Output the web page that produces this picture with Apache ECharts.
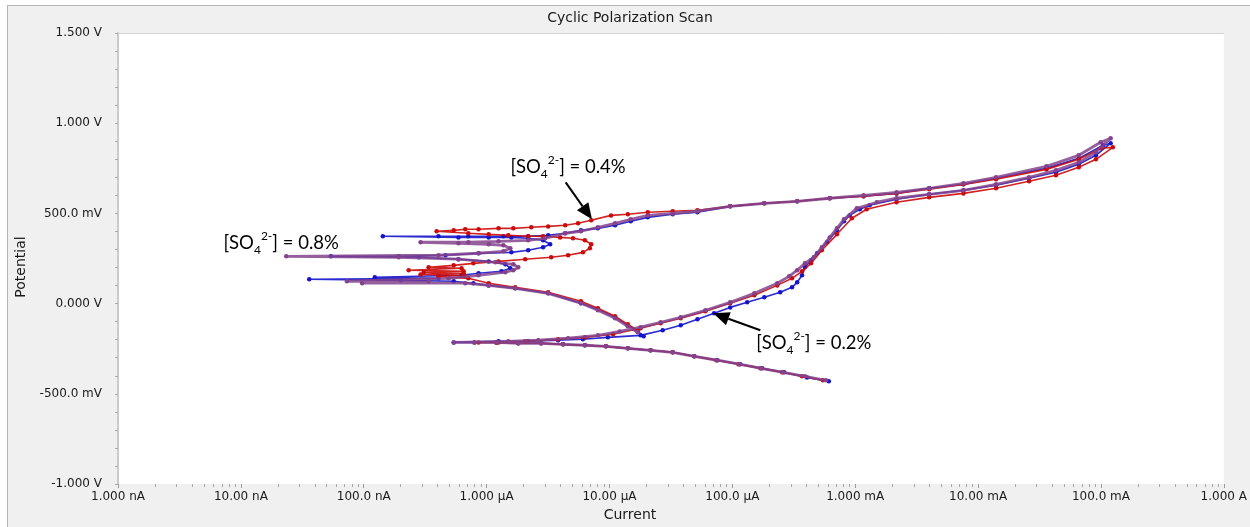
<!DOCTYPE html>
<html>
<head>
<meta charset="utf-8">
<title>Cyclic Polarization Scan</title>
<script src="https://cdn.jsdelivr.net/npm/echarts@6/dist/echarts.min.js"></script>
<style>
  html, body { margin: 0; padding: 0; background: #ffffff; }
  #frame { position: absolute; left: 7px; top: 5px; width: 1260px; height: 540px;
           background: #f0f0f0; border-left: 1px solid #b4b4b4; border-top: 1px solid #b4b4b4; }
  #chart { position: absolute; left: 0; top: 0; width: 1250px; height: 527px; }
</style>
</head>
<body>
<div id="frame"></div>
<div id="chart"></div>
<script>
// ---- axis tick labels ----
const currentTickLabels = ['1.000 nA', '10.00 nA', '100.0 nA', '1.000 µA', '10.00 µA',
                           '100.0 µA', '1.000 mA', '10.00 mA', '100.0 mA', '1.000 A'];
const potentialTicks = [-1.0, -0.5, 0.0, 0.5, 1.0, 1.5];
const potentialTickLabels = ['-1.000 V', '-500.0 mV', '0.000 V', '500.0 mV', '1.000 V', '1.500 V'];

// ---- scans: [current (A), potential (V)] in acquisition order ----
// [SO4 2-] = 0.2 %
const scan02 = [
  [6.1e-4, -0.431], [4.05e-4, -0.409], [2.64e-4, -0.381], [1.75e-4, -0.359], [1.16e-4, -0.336],
  [7.55e-5, -0.314], [4.9e-5, -0.292], [3.27e-5, -0.270], [2.16e-5, -0.259], [1.41e-5, -0.248],
  [9.35e-6, -0.237], [6.3e-6, -0.231], [4.19e-6, -0.226], [2.78e-6, -0.220], [1.81e-6, -0.220],
  [1.2e-6, -0.215], [7.96e-7, -0.215], [5.4e-7, -0.215],
  [1.25e-6, -0.209], [2.18e-6, -0.209], [3.82e-6, -0.203], [6.08e-6, -0.198], [9.7e-6, -0.187],
  [1.79e-5, -0.176], [2.71e-5, -0.148], [3.8e-5, -0.120], [5.2e-5, -0.087], [7.1e-5, -0.054],
  [9.6e-5, -0.021], [1.32e-4, 0.007], [1.82e-4, 0.035], [2.45e-4, 0.063], [3.06e-4, 0.090],
  [3.37e-4, 0.118], [3.69e-4, 0.157], [3.9e-4, 0.201], [4.37e-4, 0.240], [4.9e-4, 0.279],
  [5.9e-4, 0.340], [7.1e-4, 0.406], [8.1e-4, 0.456], [9.0e-4, 0.489], [1.09e-3, 0.523],
  [1.31e-3, 0.545], [2.17e-3, 0.578], [4.0e-3, 0.606], [7.6e-3, 0.628], [1.4e-2, 0.656],
  [2.6e-2, 0.695], [4.3e-2, 0.728], [6.6e-2, 0.772], [9.1e-2, 0.822], [0.12, 0.889],
  [0.104, 0.878], [0.066, 0.805], [3.6e-2, 0.750], [1.4e-2, 0.695], [7.6e-3, 0.661],
  [4.0e-3, 0.639], [2.17e-3, 0.611], [1.17e-3, 0.595], [6.2e-4, 0.584], [3.37e-4, 0.567],
  [1.82e-4, 0.556], [9.6e-5, 0.539], [5.2e-5, 0.506], [3.27e-5, 0.495], [2.05e-5, 0.478],
  [1.49e-5, 0.456], [1.11e-5, 0.434], [8.05e-6, 0.417], [5.86e-6, 0.406], [4.36e-6, 0.390],
  [3.17e-6, 0.379], [2.18e-6, 0.373], [1.37e-6, 0.373], [7.1e-7, 0.373], [4.06e-7, 0.373],
  [1.43e-7, 0.373], [5.9e-7, 0.367], [1.04e-6, 0.367], [1.59e-6, 0.367], [2.18e-6, 0.362],
  [2.88e-6, 0.351], [3.29e-6, 0.329], [2.88e-6, 0.312], [2.18e-6, 0.296], [1.59e-6, 0.284],
  [8.6e-7, 0.279], [4.63e-7, 0.268], [1.93e-7, 0.262], [5.4e-8, 0.262], [2.8e-7, 0.257],
  [5.9e-7, 0.246], [1.04e-6, 0.234], [1.42e-6, 0.218], [1.56e-6, 0.196], [1.32e-6, 0.179],
  [8.6e-7, 0.168], [6.25e-7, 0.157], [1.23e-7, 0.146], [4.06e-7, 0.140], [3.6e-8, 0.135],
  [2.0e-7, 0.129], [5.4e-7, 0.124], [7.8e-7, 0.113],
  [1.04e-6, 0.101], [1.71e-6, 0.085], [3.17e-6, 0.057], [5.86e-6, 0.002], [8.05e-6, -0.032],
  [1.11e-5, -0.076], [1.41e-5, -0.120], [1.7e-5, -0.154], [1.9e-5, -0.181]
];

// [SO4 2-] = 0.4 %
const scan04 = [
  [5.45e-4, -0.425], [3.69e-4, -0.403], [2.54e-4, -0.381], [1.69e-4, -0.359], [1.12e-4, -0.336],
  [7.4e-5, -0.314], [4.9e-5, -0.292], [3.27e-5, -0.270], [2.16e-5, -0.259], [1.41e-5, -0.248],
  [9.35e-6, -0.237], [6.3e-6, -0.231], [4.19e-6, -0.226], [2.78e-6, -0.220], [1.81e-6, -0.220],
  [1.2e-6, -0.215], [8.6e-7, -0.215],
  [1.25e-6, -0.215], [2.06e-6, -0.209], [3.82e-6, -0.198], [6.3e-6, -0.187], [1.07e-5, -0.170],
  [1.79e-5, -0.137], [2.61e-5, -0.109], [3.8e-5, -0.081], [6.04e-5, -0.043], [9.6e-5, 0.002],
  [1.51e-4, 0.046], [2.32e-4, 0.101], [3.06e-4, 0.140], [3.69e-4, 0.179], [4.37e-4, 0.223],
  [5.35e-4, 0.296], [7.1e-4, 0.384], [9.4e-4, 0.473], [1.24e-3, 0.523], [2.17e-3, 0.562],
  [4.0e-3, 0.589], [7.6e-3, 0.611], [1.4e-2, 0.639], [2.6e-2, 0.678], [4.3e-2, 0.711],
  [6.6e-2, 0.756], [9.1e-2, 0.800], [0.125, 0.866],
  [0.0995, 0.861], [0.066, 0.800], [3.6e-2, 0.744], [1.4e-2, 0.689], [7.6e-3, 0.661],
  [4.0e-3, 0.634], [2.17e-3, 0.611], [1.17e-3, 0.595], [6.2e-4, 0.584], [3.37e-4, 0.567],
  [1.82e-4, 0.556], [9.6e-5, 0.539], [5.2e-5, 0.517], [3.27e-5, 0.512], [2.05e-5, 0.506],
  [1.41e-5, 0.495], [1.03e-5, 0.489], [7.1e-6, 0.462], [5.55e-6, 0.445], [4.36e-6, 0.434],
  [3.17e-6, 0.428], [2.31e-6, 0.423], [1.65e-6, 0.417], [1.25e-6, 0.417], [8.6e-7, 0.412],
  [6.7e-7, 0.412], [5.4e-7, 0.406], [3.92e-7, 0.401], [7.1e-7, 0.390], [1.04e-6, 0.384],
  [1.5e-6, 0.379], [2.18e-6, 0.373], [2.88e-6, 0.373], [3.96e-6, 0.367], [5.05e-6, 0.362],
  [6.3e-6, 0.351], [7.1e-6, 0.329], [6.93e-6, 0.307], [6.08e-6, 0.284], [4.6e-6, 0.268],
  [3.35e-6, 0.257], [2.06e-6, 0.246], [1.25e-6, 0.234], [7.8e-7, 0.223], [5.4e-7, 0.212],
  [3.37e-7, 0.201], [6.25e-7, 0.196], [2.32e-7, 0.185], [6.5e-7, 0.179], [3.08e-7, 0.174],
  [6.5e-7, 0.168], [2.9e-7, 0.162], [6.6e-7, 0.157], [4.06e-7, 0.151], [7.1e-7, 0.140],
  [1.04e-6, 0.113], [1.71e-6, 0.090], [3.17e-6, 0.063], [5.86e-6, 0.013], [8.05e-6, -0.026],
  [1.11e-5, -0.070], [1.41e-5, -0.115], [1.7e-5, -0.148]
];

// [SO4 2-] = 0.8 %
const scan08 = [
  [5.78e-4, -0.425], [3.9e-4, -0.403], [2.59e-4, -0.381], [1.72e-4, -0.359], [1.14e-4, -0.336],
  [7.55e-5, -0.314], [4.9e-5, -0.292], [3.27e-5, -0.270], [2.16e-5, -0.259], [1.41e-5, -0.248],
  [9.35e-6, -0.237], [6.3e-6, -0.231], [4.19e-6, -0.226], [2.78e-6, -0.220], [1.81e-6, -0.220],
  [1.2e-6, -0.215], [7.96e-7, -0.215], [5.4e-7, -0.215],
  [1.5e-6, -0.209], [2.63e-6, -0.203], [4.6e-6, -0.192], [8.05e-6, -0.176], [1.21e-5, -0.154],
  [1.79e-5, -0.131], [2.61e-5, -0.104], [3.8e-5, -0.076], [6.04e-5, -0.037], [9.6e-5, 0.007],
  [1.51e-4, 0.057], [2.32e-4, 0.113], [2.9e-4, 0.151], [3.37e-4, 0.185], [3.9e-4, 0.223],
  [4.6e-4, 0.257], [5.35e-4, 0.312], [6.2e-4, 0.367], [7.1e-4, 0.417], [8.1e-4, 0.467],
  [1.03e-3, 0.528], [1.5e-3, 0.562], [2.17e-3, 0.584], [4.0e-3, 0.606], [7.6e-3, 0.628],
  [1.4e-2, 0.661], [2.6e-2, 0.700], [4.3e-2, 0.739], [6.6e-2, 0.783], [9.1e-2, 0.839],
  [0.12, 0.916],
  [0.0995, 0.894], [0.066, 0.822], [3.6e-2, 0.761], [1.4e-2, 0.700], [7.6e-3, 0.667],
  [4.0e-3, 0.639], [2.17e-3, 0.617], [1.17e-3, 0.600], [6.2e-4, 0.584], [3.37e-4, 0.567],
  [1.82e-4, 0.556], [9.6e-5, 0.539], [5.2e-5, 0.512], [3.27e-5, 0.500], [2.05e-5, 0.489],
  [1.49e-5, 0.467], [1.11e-5, 0.445], [8.05e-6, 0.423], [5.86e-6, 0.401], [4.36e-6, 0.390],
  [2.99e-6, 0.362], [2.18e-6, 0.351], [1.25e-6, 0.345], [7.1e-7, 0.340], [2.9e-7, 0.340],
  [5.9e-7, 0.334], [1.04e-6, 0.329], [1.37e-6, 0.323], [1.56e-6, 0.307], [1.37e-6, 0.290],
  [8.6e-7, 0.279], [4.06e-7, 0.268], [2.34e-8, 0.262], [1.93e-7, 0.257], [5.9e-7, 0.246],
  [1.18e-6, 0.229], [1.65e-6, 0.218], [1.81e-6, 0.201], [1.65e-6, 0.185], [1.42e-6, 0.174],
  [8.6e-7, 0.157], [4.9e-7, 0.140], [7.3e-8, 0.124], [3.37e-7, 0.124], [9.7e-8, 0.113],
  [6.7e-7, 0.113],
  [1.04e-6, 0.101], [1.71e-6, 0.085], [3.17e-6, 0.057], [5.86e-6, 0.002], [8.05e-6, -0.037],
  [1.11e-5, -0.081], [1.41e-5, -0.126], [1.7e-5, -0.159]
];

// ---- chart ----
const LABEL_FONT = '"DejaVu Sans", "Liberation Sans", sans-serif';
const NOTE_FONT = 'Lato, "Open Sans", sans-serif';

const decadeValues = currentTickLabels.map((_, i) => Math.pow(10, i - 9));
const minorValues = [];
for (let d = -9; d < 0; d++) {
  for (let m = 2; m <= 9; m++) minorValues.push(m * Math.pow(10, d));
}

function currentLabel(v) {
  const idx = Math.round(Math.log10(v)) + 9;
  return currentTickLabels[idx] || '';
}
function potentialLabel(v) {
  const idx = potentialTicks.findIndex(t => Math.abs(t - v) < 1e-6);
  return idx >= 0 ? potentialTickLabels[idx] : '';
}

function scanSeries(name, data, color, width, opacity, z) {
  return {
    name: name, type: 'line', data: data, z: z,
    xAxisIndex: 0, yAxisIndex: 0,
    symbol: 'circle', symbolSize: 4.5, showAllSymbol: true,
    lineStyle: { color: color, width: width, opacity: opacity },
    itemStyle: { color: color },
    emphasis: { disabled: true },
    silent: true
  };
}

const chart = echarts.init(document.getElementById('chart'));

const logAxisBase = { type: 'log', logBase: 10, min: 1e-9, max: 1, gridIndex: 0, splitLine: { show: false } };

chart.setOption({
  animation: false,
  backgroundColor: 'transparent',
  grid: { left: 118, right: 22, top: 33, bottom: 43, show: true, backgroundColor: '#ffffff', borderWidth: 0 },
  xAxis: [
    Object.assign({}, logAxisBase, {
      position: 'bottom',
      axisLine: { show: false, onZero: false },
      axisTick: { show: true, length: 4, customValues: decadeValues, lineStyle: { color: '#9a9a9a' } },
      axisLabel: { customValues: decadeValues, formatter: currentLabel, color: '#1a1a1a',
                   fontSize: 12, fontFamily: LABEL_FONT, margin: 7 }
    }),
    Object.assign({}, logAxisBase, {
      position: 'bottom',
      axisLine: { show: false, onZero: false },
      axisTick: { show: true, length: 3, customValues: minorValues, lineStyle: { color: '#a8a8a8' } },
      axisLabel: { show: false }
    }),
    Object.assign({}, logAxisBase, {
      position: 'top',
      axisLine: { show: true, onZero: false, lineStyle: { color: '#d4d4d4', width: 1 } },
      axisTick: { show: false },
      axisLabel: { show: false }
    })
  ],
  yAxis: {
    type: 'value', min: -1, max: 1.5, interval: 0.5,
    axisLine: { show: true, onZero: false, lineStyle: { color: '#cacaca', width: 2 } },
    axisTick: { show: true, length: 3, lineStyle: { color: '#a8a8a8' } },
    minorTick: { show: true, splitNumber: 5, length: 3, lineStyle: { color: '#a8a8a8' } },
    splitLine: { show: false },
    minorSplitLine: { show: false },
    axisLabel: { formatter: potentialLabel, color: '#1a1a1a', fontSize: 12, fontFamily: LABEL_FONT, margin: 16 }
  },
  series: [
    scanSeries('0.2%', scan02, '#1414cc', 1.6, 0.9, 3),
    scanSeries('0.4%', scan04, '#cc0a0a', 1.6, 0.9, 4),
    scanSeries('0.8%', scan08, '#84438c', 2.8, 0.85, 5)
  ]
});

// ---- title, axis names and concentration notes ----
const notes = [
  { pct: '0.8%', at: [2.13e-8, 0.334] },
  { pct: '0.4%', at: [4.6e-6, 0.755], from: [4.4e-6, 0.672], to: [7.2e-6, 0.467] },
  { pct: '0.2%', at: [4.6e-4, -0.22], from: [1.69e-4, -0.148], to: [7.0e-5, -0.054] }
];

function px(p) { return chart.convertToPixel({ xAxisIndex: 0, yAxisIndex: 0 }, p); }

const graphics = [
  { type: 'text', x: 630, y: 18, style: { text: 'Cyclic Polarization Scan', fontSize: 14, fontFamily: LABEL_FONT,
    fill: '#1a1a1a', align: 'center', verticalAlign: 'middle' } },
  { type: 'text', x: 630, y: 515, style: { text: 'Current', fontSize: 14, fontFamily: LABEL_FONT,
    fill: '#1a1a1a', align: 'center', verticalAlign: 'middle' } },
  { type: 'text', x: 21, y: 267, rotation: Math.PI / 2, style: { text: 'Potential', fontSize: 14, fontFamily: LABEL_FONT,
    fill: '#1a1a1a', align: 'center', verticalAlign: 'middle' } }
];

notes.forEach(n => {
  const c = px(n.at);
  graphics.push({
    type: 'text', x: c[0], y: c[1], z: 20,
    style: {
      text: '{m|[SO}{sub|4}{sup|2-}{m|] = ' + n.pct + '}',
      align: 'center', verticalAlign: 'middle',
      rich: {
        m: { fontSize: 18.5, fontFamily: NOTE_FONT, fill: '#000', lineHeight: 26, verticalAlign: 'middle' },
        sub: { fontSize: 12, fontFamily: NOTE_FONT, fill: '#000', lineHeight: 26, verticalAlign: 'bottom' },
        sup: { fontSize: 12, fontFamily: NOTE_FONT, fill: '#000', lineHeight: 26, verticalAlign: 'top' }
      }
    }
  });
  if (n.from) {
    const a = px(n.from), b = px(n.to);
    const dx = b[0] - a[0], dy = b[1] - a[1];
    const len = Math.sqrt(dx * dx + dy * dy);
    const ux = dx / len, uy = dy / len;
    const head = 16, half = 7;
    const base = [b[0] - ux * head, b[1] - uy * head];
    graphics.push({ type: 'line', z: 20, shape: { x1: a[0], y1: a[1], x2: base[0], y2: base[1] },
      style: { stroke: '#000', lineWidth: 2 } });
    graphics.push({ type: 'polygon', z: 20,
      shape: { points: [b, [base[0] - uy * half, base[1] + ux * half], [base[0] + uy * half, base[1] - ux * half]] },
      style: { fill: '#000' } });
  }
});

chart.setOption({ graphic: graphics });
</script>
</body>
</html>
